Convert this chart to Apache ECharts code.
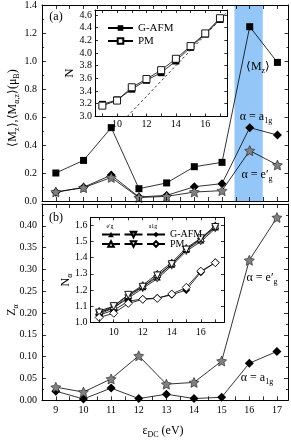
<!DOCTYPE html>
<html><head><meta charset="utf-8">
<script src="https://cdn.jsdelivr.net/npm/echarts@6/dist/echarts.min.js"></script>
<style>html,body{margin:0;padding:0;background:#fff}#c{width:291px;height:440px}</style>
</head><body><div id="c"></div><script>
// ---- data ----
const eps = [9, 10, 11, 12, 13, 14, 15, 16, 17];
// panel (a): moments (mu_B)
const Mz   = [0.200, 0.290, 0.524, 0.088, 0.129, 0.245, 0.276, 1.245, 0.990];
const Ma1g = [0.062, 0.098, 0.185, 0.029, 0.040, 0.102, 0.124, 0.524, 0.471];
const Meg  = [0.065, 0.095, 0.168, 0.025, 0.033, 0.064, 0.074, 0.360, 0.257];
const bandRange = [15.45, 16.47];
// panel (b): quasiparticle weights
const Za1g = [0.021, 0.003, 0.028, 0.004, 0.014, 0.004, 0.007, 0.085, 0.112];
const Zeg  = [0.030, 0.019, 0.049, 0.102, 0.037, 0.041, 0.090, 0.321, 0.419];
// inset (a): total occupancy N
const N_GAFM = [3.19, 3.26, 3.43, 3.57, 3.69, 3.875, 4.09, 4.30, 4.53];
const N_PM   = [3.17, 3.25, 3.46, 3.59, 3.73, 3.91, 4.11, 4.31, 4.55];
const Nref_x = [10.7, 17.5];
const Nref_y = [3.00, 4.65];
// inset (b): orbital occupancies
const NupG = [1.06, 1.09, 1.16, 1.22, 1.28, 1.36, 1.45, 1.51, 1.59];
const NupP = [1.07, 1.10, 1.17, 1.23, 1.30, 1.37, 1.46, 1.52, 1.60];
const NdnG = [1.05, 1.09, 1.15, 1.21, 1.27, 1.35, 1.44, 1.50, 1.58];
const NdnP = [1.06, 1.10, 1.17, 1.22, 1.29, 1.36, 1.45, 1.52, 1.59];
const NaG  = [1.045, 1.075, 1.13, 1.145, 1.15, 1.17, 1.20, 1.31, 1.37];
const NaP  = [1.030, 1.056, 1.117, 1.142, 1.148, 1.175, 1.216, 1.317, 1.369];

const F = 'Liberation Serif';
const pairs = a => eps.map((x, i) => [x, a[i]]);
const STAR = 'path://M0,-10L2.94,-4.05L9.51,-3.09L4.76,1.55L5.88,8.09L0,5L-5.88,8.09L-4.76,1.55L-9.51,-3.09L-2.94,-4.05Z';
const lab = {fontFamily: F, fontSize: 10, color: '#000'};

function xAx(grid, pos, o) {
  return Object.assign({
    type: 'value', gridIndex: grid, position: pos, z: 5,
    axisLine: {show: true, onZero: false, lineStyle: {color: '#000', width: 1}},
    axisTick: {show: true, inside: true, length: 4, lineStyle: {color: '#000', width: 0.8}},
    axisLabel: {show: false}, splitLine: {show: false}
  }, o);
}
const yAx = xAx;

const mainX = {min: 8.5, max: 17.4, interval: 0.5};
const intLab = Object.assign({show: true, margin: 5, formatter: v => (Math.abs(v - Math.round(v)) < 1e-6 ? String(Math.round(v)) : '')}, lab);
const evenLab = Object.assign({}, lab, {show: true, margin: 3, formatter: v => (Math.abs(v - Math.round(v)) < 1e-6 && Math.round(v) % 2 === 0 ? String(Math.round(v)) : '')});
const insTick = {show: true, inside: true, length: 3, lineStyle: {color: '#000', width: 0.8}};

const xAxis = [
  xAx(0, 'bottom', mainX), xAx(0, 'top', mainX),
  xAx(1, 'bottom', Object.assign({axisLabel: intLab}, mainX)), xAx(1, 'top', mainX),
  xAx(2, 'bottom', {min: 8.5, max: 17.5, splitNumber: 9, axisTick: insTick, axisLabel: evenLab}),
  xAx(2, 'top', {min: 8.5, max: 17.5, splitNumber: 9, axisTick: insTick}),
  xAx(3, 'bottom', {min: 8.4, max: 17.6, splitNumber: 9, axisTick: insTick, axisLabel: Object.assign({}, evenLab, {margin: 5})}),
  xAx(3, 'top', {min: 8.4, max: 17.6, splitNumber: 9, axisTick: insTick})
];
const minor = {show: true, splitNumber: 2, length: 2, lineStyle: {color: '#000', width: 0.8}};
const yA = {min: 0, max: 1.4, interval: 0.2, minorTick: minor};
const yB = {min: 0, max: 0.45, interval: 0.05, minorTick: minor};
const yIA = {min: 3.0, max: 4.68, interval: 0.2, axisTick: insTick};
const yIB = {min: 1.0, max: 1.65, interval: 0.1, axisTick: insTick};
const yAxis = [
  yAx(0, 'left', Object.assign({axisLabel: Object.assign({show: true, margin: 5, formatter: v => v.toFixed(1)}, lab)}, yA)),
  yAx(0, 'right', yA),
  yAx(1, 'left', Object.assign({axisLabel: Object.assign({show: true, margin: 5, formatter: v => (v > 0.42 ? '' : v.toFixed(2))}, lab)}, yB)),
  yAx(1, 'right', yB),
  yAx(2, 'left', Object.assign({}, yIA, {axisLabel: Object.assign({show: true, margin: 3, formatter: v => (v > 4.65 ? '' : v.toFixed(1))}, lab)})),
  yAx(2, 'right', yIA),
  yAx(3, 'left', Object.assign({}, yIB, {axisLabel: Object.assign({show: true, margin: 3, formatter: v => (v > 1.62 ? '' : v.toFixed(1))}, lab)})),
  yAx(3, 'right', yIB)
];

function ser(name, data, xi, yi, sym, size, fill, extra) {
  return Object.assign({
    name: name, type: 'line', data: data, xAxisIndex: xi, yAxisIndex: yi,
    symbol: sym, symbolSize: size, showSymbol: true, animation: false, z: 3,
    itemStyle: {color: fill, borderColor: '#000', borderWidth: fill === '#fff' ? 0.9 : (fill === '#808080' ? 0.5 : 0), opacity: 1},
    lineStyle: {color: '#000', width: 0.8}
  }, extra || {});
}

const series = [
  {type: 'line', xAxisIndex: 0, yAxisIndex: 0, data: [], z: 1, silent: true, animation: false,
   markArea: {silent: true, itemStyle: {color: '#94c6f8', opacity: 1}, data: [[{xAxis: bandRange[0]}, {xAxis: bandRange[1]}]]}},
  ser('Mz', pairs(Mz), 0, 0, 'rect', 7, '#000'),
  ser('Ma1g', pairs(Ma1g), 0, 0, 'diamond', 9, '#000'),
  ser('Meg', pairs(Meg), 0, 0, STAR, 10, '#808080'),
  ser('Za1g', pairs(Za1g), 2, 2, 'diamond', 9, '#000'),
  ser('Zeg', pairs(Zeg), 2, 2, STAR, 10, '#808080'),
  ser('G-AFM', pairs(N_GAFM), 4, 4, 'rect', 7, '#000'),
  ser('PM', pairs(N_PM), 4, 4, 'rect', 7, '#fff'),
  {name: 'ref', type: 'line', xAxisIndex: 4, yAxisIndex: 4, data: Nref_x.map((x, i) => [x, Nref_y[i]]),
   showSymbol: false, symbol: 'none', animation: false, lineStyle: {color: '#000', width: 0.8, type: [2.5, 2.5]}},
  ser('upG', pairs(NupG), 6, 6, 'triangle', 7, '#000'),
  ser('dnG', pairs(NdnG), 6, 6, 'triangle', 7, '#808080', {symbolRotate: 180}),
  ser('aG', pairs(NaG), 6, 6, 'diamond', 8, '#000'),
  ser('upP', pairs(NupP), 6, 6, 'triangle', 7, '#fff'),
  ser('dnP', pairs(NdnP), 6, 6, 'triangle', 7, '#fff', {symbolRotate: 180}),
  ser('aP', pairs(NaP), 6, 6, 'diamond', 8, '#fff')
];

const legTxt = {fontFamily: F, fontSize: 11, color: '#000'};
const legend = [
  {data: ['G-AFM', 'PM'], left: 107, top: 22, padding: 0, orient: 'vertical', itemWidth: 25, itemHeight: 7, itemGap: 1,
   selectedMode: false, textStyle: Object.assign({lineHeight: 12}, legTxt)},
  {data: ['upG', 'dnG', 'aG'], left: 101, top: 229.5, padding: 0, orient: 'horizontal', itemWidth: 18, itemHeight: 7, itemGap: -1.5,
   selectedMode: false, textStyle: Object.assign({}, legTxt, {fontSize: 10, lineHeight: 9}),
   formatter: n => (n === 'aG' ? 'G-AFM' : '')},
  {data: ['upP', 'dnP', 'aP'], left: 101, top: 239, padding: 0, orient: 'horizontal', itemWidth: 18, itemHeight: 7, itemGap: -1.5,
   selectedMode: false, textStyle: Object.assign({}, legTxt, {fontSize: 10, lineHeight: 9}),
   formatter: n => (n === 'aP' ? 'PM' : '')}
];

const rich = {
  s: {fontFamily: F, fontSize: 8, lineHeight: 9, verticalAlign: 'bottom', fill: '#000'},
  n: {fontFamily: F, fontSize: 12, lineHeight: 15, fill: '#000'}
};
function T(x, y, text, size, rot) {
  return {type: 'text', x: x, y: y, rotation: rot || 0, z: 10,
    style: {text: text, fontFamily: F, fontSize: size || 12, fill: '#000', align: 'center', verticalAlign: 'middle', rich: rich}};
}
const graphic = [
  T(56, 17, '(a)'), T(56, 218, '(b)'),
  T(258, 67, '{n|⟨M}{s|z}{n|⟩}'),
  T(256, 117, '{n|α = a}{s|1g}'),
  T(257, 175, '{n|α = e′}{s|g}'),
  T(262, 278, '{n|α = e′}{s|g}'),
  T(257, 378, '{n|α = a}{s|1g}'),
  T(13, 108, '{n|⟨M}{s|z}{n|⟩,⟨M}{s|α,z}{n|⟩(μ}{s|B}{n|)}', 12, Math.PI / 2),
  T(12, 310, '{n|Z}{s|α}', 12, Math.PI / 2),
  T(163, 431, '{n|ε}{s|DC}{n| (eV)}'),
  T(70, 73, 'N', 13, Math.PI / 2),
  T(66, 280, '{n|N}{s|α}', 12, Math.PI / 2),
  T(110, 226, 'e′g', 6), T(153, 226, 'a1g', 6)
];

const chart = echarts.init(document.getElementById('c'), null, {renderer: 'canvas'});
chart.setOption({
  animation: false, backgroundColor: '#fff',
  grid: [
    {left: 42, top: 5, width: 246.5, height: 196},
    {left: 42, top: 204, width: 246.5, height: 196.3},
    {left: 95, top: 10, width: 132.3, height: 106.4, show: true, backgroundColor: '#fff', borderWidth: 0},
    {left: 90.5, top: 217.3, width: 133.5, height: 105, show: true, backgroundColor: '#fff', borderWidth: 0}
  ],
  xAxis: xAxis, yAxis: yAxis, series: series, legend: legend, graphic: graphic
});
</script></body></html>
